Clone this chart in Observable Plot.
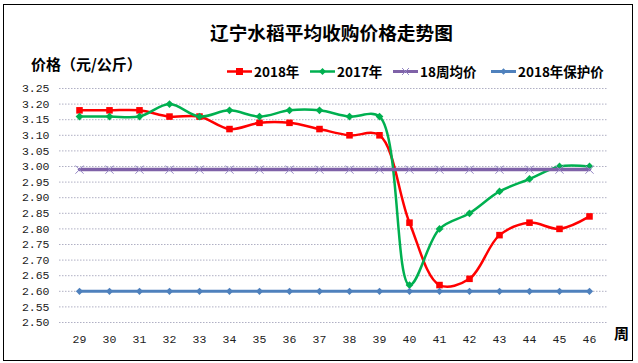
<!DOCTYPE html>
<html><head><meta charset="utf-8">
<script src="https://cdn.jsdelivr.net/npm/d3@7"></script>
<script src="https://cdn.jsdelivr.net/npm/@observablehq/plot@0.6"></script>
<style>
body{margin:0;background:#fff;}
#wrap{position:relative;width:638px;height:363px;overflow:hidden;font-family:"Noto Sans CJK SC",sans-serif;background:#fff;}
#frame{position:absolute;left:3px;top:4px;width:628px;height:355px;border:1.5px solid #000;pointer-events:none;}
#chart{position:absolute;left:0;top:0;}
.t{position:absolute;white-space:nowrap;color:#000;line-height:1;}
#title{left:210px;top:23px;font-size:18.7px;font-weight:bold;}
#ylab{left:31px;top:56px;font-size:15px;font-weight:bold;}
#xlab{left:614px;top:325px;font-size:15px;font-weight:bold;}
.leg{position:absolute;top:63px;height:16px;display:flex;align-items:center;font-size:13.5px;font-weight:bold;white-space:nowrap;}
.leg svg{margin-right:2px;}
</style></head>
<body>
<div id="wrap">
  <div id="chart"></div>
  <div id="title" class="t">辽宁水稻平均收购价格走势图</div>
  <div id="ylab" class="t">价格（元/公斤）</div>
  <div id="xlab" class="t">周</div>
  <div id="legend"></div>
  <div id="frame"></div>
</div>
<script>
const weeks = [29,30,31,32,33,34,35,36,37,38,39,40,41,42,43,44,45,46];
const price2018 = [3.18,3.18,3.18,3.16,3.16,3.12,3.14,3.14,3.12,3.10,3.10,2.82,2.62,2.64,2.78,2.82,2.80,2.84];
const price2017 = [3.16,3.16,3.16,3.20,3.16,3.18,3.16,3.18,3.18,3.16,3.16,2.62,2.80,2.85,2.92,2.96,3.00,3.00];
const avg18 = [2.99,2.99,2.99,2.99,2.99,2.99,2.99,2.99,2.99,2.99,2.99,2.99,2.99,2.99,2.99,2.99,2.99,2.99];
const protect2018 = [2.60,2.60,2.60,2.60,2.60,2.60,2.60,2.60,2.60,2.60,2.60,2.60,2.60,2.60,2.60,2.60,2.60,2.60];
const yTicks = [2.50,2.55,2.60,2.65,2.70,2.75,2.80,2.85,2.90,2.95,3.00,3.05,3.10,3.15,3.20,3.25];
const seriesNames = ["2018年","2017年","18周均价","2018年保护价"];
const seriesColors = ["#FF0000","#00B050","#7F62A8","#4F81BD"];

const rows = weeks.map((w,i)=>({w, r:price2018[i], g:price2017[i], a:avg18[i], p:protect2018[i]}));

const chart = Plot.plot({
  width:638, height:363,
  marginLeft:59, marginRight:30, marginTop:88, marginBottom:41,
  x:{type:"point", domain:weeks, padding:0.5, label:null},
  y:{domain:[2.5,3.25], label:null},
  style:{fontFamily:"Liberation Mono", fontSize:"11.5px", color:"#222", background:"transparent"},
  marks:[
    Plot.ruleY(yTicks, {y:d=>d, stroke:"#b0b0c4", strokeWidth:1, strokeDasharray:"1.5,1.5"}),
    Plot.axisY({ticks:yTicks, tickFormat:d=>d.toFixed(2), tickSize:0, tickPadding:10, label:null}),
    Plot.axisX({tickSize:0, tickPadding:12, label:null}),
    Plot.line(rows,{x:"w",y:"r",stroke:seriesColors[0],strokeWidth:2.5,curve:"catmull-rom"}),
    Plot.dot(rows,{x:"w",y:"r",symbol:"square",fill:seriesColors[0],r:3.7}),
    Plot.line(rows,{x:"w",y:"g",stroke:seriesColors[1],strokeWidth:2.5,curve:"catmull-rom"}),
    Plot.dot(rows,{x:"w",y:"g",symbol:"square",rotate:45,fill:seriesColors[1],r:3.1}),
    Plot.line(rows,{x:"w",y:"a",stroke:seriesColors[2],strokeWidth:3.5}),
    Plot.dot(rows,{x:"w",y:"a",symbol:"times",stroke:"#9486c4",strokeWidth:1,r:3.8}),
    Plot.line(rows,{x:"w",y:"p",stroke:seriesColors[3],strokeWidth:3}),
    Plot.dot(rows,{x:"w",y:"p",symbol:"square",rotate:45,fill:seriesColors[3],r:2.9})
  ]
});
document.getElementById("chart").appendChild(chart);

// legend
const legPos = [227,310,393,491];
const legMarker = [
  '<rect x="9" y="4" width="7" height="7" fill="#FF0000"/>',
  '<rect x="10" y="5" width="5" height="5" fill="#00B050" transform="rotate(45 12.5 7.5)"/>',
  '<path d="M9,4L16,11M16,4L9,11" stroke="#9486c4" stroke-width="1"/>',
  '<rect x="10.2" y="5.2" width="4.6" height="4.6" fill="#4F81BD" transform="rotate(45 12.5 7.5)"/>'
];
const leg = document.getElementById("legend");
seriesNames.forEach((n,i)=>{
  const d = document.createElement("div");
  d.className = "leg";
  d.style.left = legPos[i]+"px";
  d.innerHTML = `<svg width="25" height="15"><line x1="0" x2="25" y1="7.5" y2="7.5" stroke="${seriesColors[i]}" stroke-width="${i>=2?3:2.5}"/>${legMarker[i]}</svg><span>${n}</span>`;
  leg.appendChild(d);
});
</script>
</body></html>
